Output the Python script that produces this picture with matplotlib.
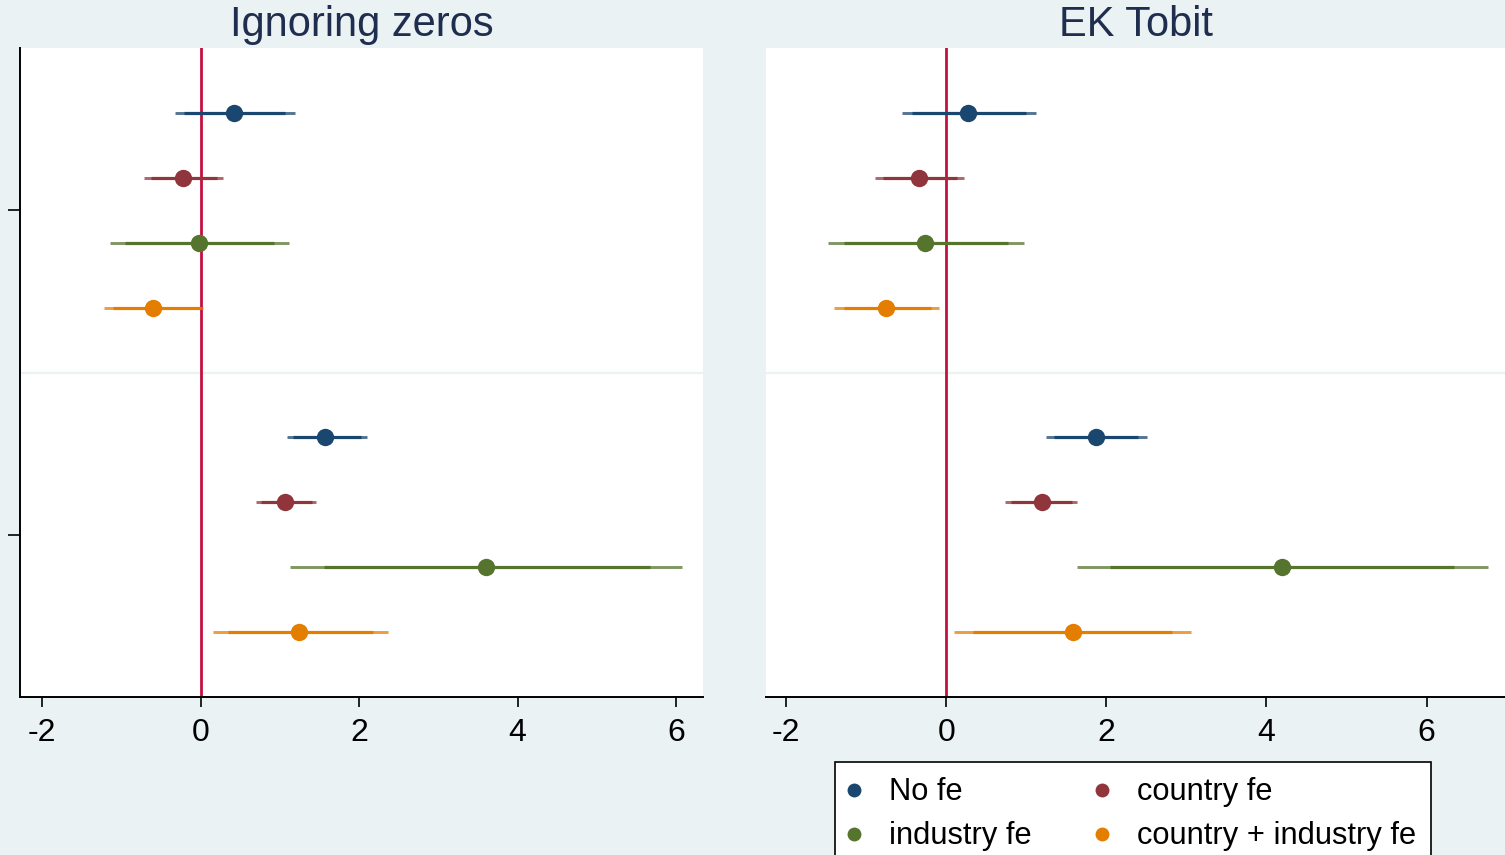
import matplotlib
matplotlib.use("Agg")
import matplotlib.pyplot as plt
from matplotlib.lines import Line2D

# coefficient plot: two estimators, two regressors, four FE specifications each
series = ['No fe', 'country fe', 'industry fe', 'country + industry fe']
colors = ['#1a476f', '#90353b', '#55752f', '#e37e00']
panel_titles = ['Ignoring zeros', 'EK Tobit']

# rows 1-4 = first regressor, rows 6-9 = second regressor (same series order)
rows = [1, 2, 3, 4, 6, 7, 8, 9]

# Ignoring zeros
oz_coef = [0.42, -0.22, -0.02, -0.60, 1.57, 1.07, 3.60, 1.24]
oz_lo99 = [-0.33, -0.71, -1.15, -1.22, 1.09, 0.70, 1.13, 0.16]
oz_hi99 = [1.19, 0.28, 1.12, 0.03, 2.10, 1.46, 6.07, 2.36]
oz_lo95 = [-0.21, -0.63, -0.95, -1.10, 1.17, 0.76, 1.56, 0.35]
oz_hi95 = [1.07, 0.20, 0.93, -0.01, 2.02, 1.40, 5.67, 2.18]

# EK Tobit
ek_coef = [0.27, -0.34, -0.26, -0.75, 1.87, 1.20, 4.19, 1.59]
ek_lo99 = [-0.55, -0.89, -1.47, -1.40, 1.25, 0.74, 1.64, 0.10]
ek_hi99 = [1.12, 0.22, 0.97, -0.09, 2.51, 1.64, 6.77, 3.06]
ek_lo95 = [-0.43, -0.79, -1.27, -1.28, 1.35, 0.81, 2.05, 0.33]
ek_hi95 = [1.00, 0.13, 0.77, -0.19, 2.40, 1.57, 6.34, 2.82]

xticks = [-2, 0, 2, 4, 6]

BG = '#eaf2f3'
ZERO = '#c4103f'
TITLE_C = '#1f2d4f'

plt.rcParams['font.family'] = ['Liberation Sans', 'DejaVu Sans']

fig = plt.figure(figsize=(15.05, 8.55), dpi=100)
fig.patch.set_facecolor(BG)

W, H = 1505.0, 855.0
ax_l = fig.add_axes([20 / W, 1 - 697 / H, 683 / W, 649 / H])
ax_r = fig.add_axes([766 / W, 1 - 697 / H, 739 / W, 649 / H])

panels = [
    (ax_l, oz_coef, oz_lo99, oz_hi99, oz_lo95, oz_hi95, (-2.28, 6.34)),
    (ax_r, ek_coef, ek_lo99, ek_hi99, ek_lo95, ek_hi95, (-2.25, 6.98)),
]

for i, (ax, coef, lo99, hi99, lo95, hi95, xlim) in enumerate(panels):
    ax.set_facecolor('white')
    ax.axhline(5, color=BG, lw=1.6, zorder=1)
    ax.axvline(0, color=ZERO, lw=2.0, zorder=2)
    for k, y in enumerate(rows):
        c = colors[k % 4]
        ax.hlines(y, lo99[k], hi99[k], color=c, lw=2.1, alpha=0.75, zorder=3)
        ax.hlines(y, lo95[k], hi95[k], color=c, lw=2.3, zorder=4)
        ax.plot(coef[k], y, 'o', color=c, ms=12.5, mec='none', zorder=5)

    ax.set_xlim(*xlim)
    ax.set_ylim(10, 0)
    ax.set_xticks(xticks)
    ax.set_xticklabels([str(t) for t in xticks])
    ax.tick_params(axis='x', direction='out', length=7, width=1.2,
                   pad=8, labelsize=23)
    for s in ['top', 'right']:
        ax.spines[s].set_visible(False)
    ax.spines['bottom'].set_linewidth(1.4)
    if i == 0:
        ax.set_yticks([2.5, 7.5])
        ax.set_yticklabels([])
        ax.tick_params(axis='y', direction='out', length=9, width=1.2)
        ax.spines['left'].set_linewidth(1.4)
    else:
        ax.set_yticks([])
        ax.spines['left'].set_visible(False)

    pos = ax.get_position()
    fig.text((pos.x0 + pos.x1) / 2, 1 - 25 / H, panel_titles[i],
             ha='center', va='center', fontsize=30, color=TITLE_C)

# legend filled row by row: matplotlib fills columns first, so reorder
order = [0, 2, 1, 3]
handles = [Line2D([], [], ls='none', marker='o', ms=10, mec='none',
                  color=colors[j]) for j in order]
labels = [series[j] for j in order]
leg = fig.legend(handles, labels, ncol=2, loc='upper left',
                 bbox_to_anchor=(835 / W, 1 - 762 / H),
                 fontsize=22.2, frameon=True, fancybox=False,
                 edgecolor='black', facecolor='white', framealpha=1,
                 handlelength=0.25, handletextpad=0.99, columnspacing=2.18,
                 labelspacing=0.45, borderpad=0.5, borderaxespad=0)
leg.get_frame().set_linewidth(1.2)

fig.savefig('out.png', dpi=100, facecolor=fig.get_facecolor())
